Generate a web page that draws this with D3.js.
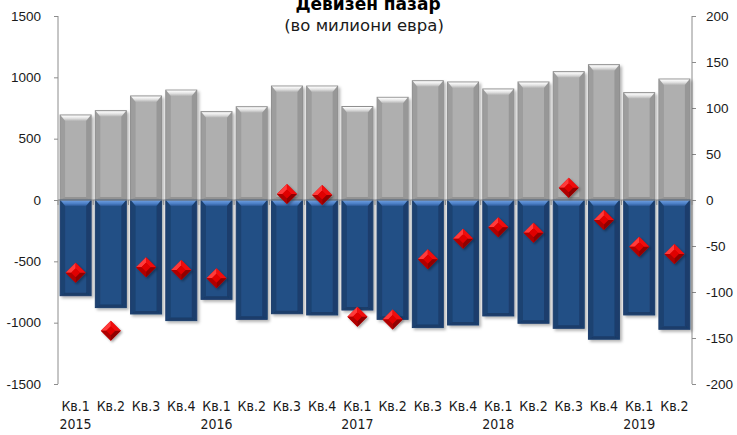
<!DOCTYPE html>
<html><head><meta charset="utf-8">
<script src="https://cdn.jsdelivr.net/npm/d3@7"></script>
<style>
body{margin:0;background:#fff;}
svg{display:block;font-family:"DejaVu Sans Condensed","DejaVu Sans",sans-serif;font-stretch:condensed;}
.ttl{font-family:"DejaVu Sans",sans-serif;font-stretch:normal;}
</style></head><body>
<svg id="c" width="737" height="435"></svg>
<script>
const quarters = ["Кв.1","Кв.2","Кв.3","Кв.4","Кв.1","Кв.2","Кв.3","Кв.4","Кв.1","Кв.2","Кв.3","Кв.4","Кв.1","Кв.2","Кв.3","Кв.4","Кв.1","Кв.2"];
const years = ["2015","","","","2016","","","","2017","","","","2018","","","","2019",""];
const graySeries = [693,728,848,896,720,760,929,929,762,837,972,962,905,962,1046,1103,875,986];
const blueSeries = [-780,-877,-929,-983,-810,-973,-927,-937,-897,-973,-1040,-1019,-945,-1005,-1046,-1135,-937,-1054];
const diamondSeries = [-79,-142,-73,-76,-85,null,6.5,5.4,-127,-130,-64.5,-42,-29.7,-35.5,13.4,-21.7,-50.7,-58.7];
const leftTicks = [-1500,-1000,-500,0,500,1000,1500];
const rightTicks = [-200,-150,-100,-50,0,50,100,150,200];

const svg = d3.select("#c");
const L = 58, R = 692, T = 16, B = 384;
const idx = d3.range(quarters.length);
const x = d3.scaleBand().domain(idx).range([L, R]).paddingInner(0.12).paddingOuter(0.06);
const yL = d3.scaleLinear().domain([-1500,1500]).range([B, T]);
const yR = d3.scaleLinear().domain([-200,200]).range([B, T]);

const defs = svg.append("defs");
const f = defs.append("filter").attr("id","sh").attr("x","-20%").attr("y","-20%").attr("width","150%").attr("height","150%");
f.append("feDropShadow").attr("dx",2).attr("dy",2).attr("stdDeviation",1.6).attr("flood-color","#000").attr("flood-opacity",0.3);
const fd = defs.append("filter").attr("id","shd").attr("x","-30%").attr("y","-30%").attr("width","170%").attr("height","170%");
fd.append("feDropShadow").attr("dx",1.5).attr("dy",1.5).attr("stdDeviation",1.2).attr("flood-color","#000").attr("flood-opacity",0.35);
function lg(id, stops){
  const g = defs.append("linearGradient").attr("id",id).attr("x1",0).attr("y1",0).attr("x2",0).attr("y2",1);
  stops.forEach(s=>g.append("stop").attr("offset",s[0]).attr("stop-color",s[1]));
}
lg("gTop",[[0,"#ffffff"],[0.5,"#e2e2e2"],[1,"#b2b2b2"]]);
lg("bTop",[[0,"#6d9ee0"],[0.6,"#4a7dc4"],[1,"#2a5794"]]);

const axisColor = "#8c8c8c";
svg.append("line").attr("x1",L).attr("x2",L).attr("y1",T).attr("y2",B).attr("stroke",axisColor);
svg.append("line").attr("x1",R).attr("x2",R).attr("y1",T).attr("y2",B).attr("stroke",axisColor);

const fmt = d => String(d);
const gL = svg.append("g").attr("transform",`translate(${L},0)`)
  .call(d3.axisLeft(yL).tickValues(leftTicks).tickSize(4).tickPadding(13).tickFormat(fmt));
const gR = svg.append("g").attr("transform",`translate(${R},0)`)
  .call(d3.axisRight(yR).tickValues(rightTicks).tickSize(4).tickPadding(10).tickFormat(fmt));
[gL,gR].forEach(g=>{
  g.select(".domain").remove();
  g.selectAll("line").attr("stroke",axisColor);
  g.selectAll("text").attr("font-size","13.5px").attr("fill","#1a1a1a");
});

const bw = x.bandwidth();
function bar(g, x0, y0, y1, body, edge, topFill, dark){
  const h = y1 - y0;
  const gg = g.append("g").attr("filter","url(#sh)");
  gg.append("rect").attr("x",x0).attr("y",y0).attr("width",bw).attr("height",h).attr("fill",body).attr("stroke",edge).attr("stroke-width",1);
  const bev = Math.min(6, h/3), ins = 5;
  gg.append("path").attr("d",`M${x0+0.5},${y0+0.5}L${x0+bw-0.5},${y0+0.5}L${x0+bw-ins},${y0+bev}L${x0+ins},${y0+bev}Z`).attr("fill",topFill);
  gg.append("path").attr("d",`M${x0+0.5},${y0+0.5}L${x0+ins},${y0+bev}L${x0+ins},${y1-3}L${x0+0.5},${y1-0.5}Z`).attr("fill",dark).attr("opacity",0.35);
  gg.append("path").attr("d",`M${x0+bw-0.5},${y0+0.5}L${x0+bw-ins},${y0+bev}L${x0+bw-ins},${y1-3}L${x0+bw-0.5},${y1-0.5}Z`).attr("fill",dark).attr("opacity",0.45);
  gg.append("path").attr("d",`M${x0+0.5},${y1-0.5}L${x0+ins},${y1-3}L${x0+bw-ins},${y1-3}L${x0+bw-0.5},${y1-0.5}Z`).attr("fill",dark).attr("opacity",0.5);
}
const barsG = svg.append("g");
idx.forEach(i=>{
  bar(barsG, x(i), yL(graySeries[i]), yL(0), "#afafaf", "#8e8e8e", "url(#gTop)", "#7a7a7a");
  bar(barsG, x(i), yL(0), yL(blueSeries[i]), "#244f85", "#1d3f6c", "url(#bTop)", "#0f2a4e");
});

svg.append("line").attr("x1",L).attr("x2",R).attr("y1",yL(0)).attr("y2",yL(0)).attr("stroke",axisColor);
d3.range(quarters.length+1).forEach(k=>{
  const xx = L + k*(R-L)/quarters.length;
  svg.append("line").attr("x1",xx).attr("x2",xx).attr("y1",yL(0)).attr("y2",yL(0)+5).attr("stroke",axisColor);
});

const dg = svg.append("g");
const s = 10;
idx.filter(i=>diamondSeries[i]!==null).forEach(i=>{
  const cx = x(i)+bw/2, cy = yR(diamondSeries[i]);
  const g = dg.append("g").attr("filter","url(#shd)");
  g.append("path").attr("d",`M${cx},${cy-s}L${cx+s},${cy}L${cx},${cy+s}L${cx-s},${cy}Z`).attr("fill","#d40000");
  g.append("path").attr("d",`M${cx},${cy-s}L${cx-s},${cy}L${cx-s*0.45},${cy}L${cx},${cy-s*0.45}Z`).attr("fill","#ff3a3a");
  g.append("path").attr("d",`M${cx},${cy-s}L${cx+s},${cy}L${cx+s*0.45},${cy}L${cx},${cy-s*0.45}Z`).attr("fill","#f01010");
  g.append("path").attr("d",`M${cx},${cy-s*0.45}L${cx+s*0.45},${cy}L${cx},${cy+s*0.45}L${cx-s*0.45},${cy}Z`).attr("fill","#e00000");
  g.append("path").attr("d",`M${cx-s},${cy}L${cx},${cy+s}L${cx},${cy+s*0.45}L${cx-s*0.45},${cy}Z`).attr("fill","#b00000");
  g.append("path").attr("d",`M${cx+s},${cy}L${cx},${cy+s}L${cx},${cy+s*0.45}L${cx+s*0.45},${cy}Z`).attr("fill","#900000");
});

const xl = svg.append("g");
idx.forEach(i=>{
  const cx = L + (i+0.5)*(R-L)/quarters.length;
  xl.append("text").attr("x",cx).attr("y",411).attr("text-anchor","middle").attr("font-size","14px").attr("fill","#1a1a1a").text(quarters[i]);
  if(years[i]) xl.append("text").attr("x",cx).attr("y",429).attr("text-anchor","middle").attr("font-size","14px").attr("fill","#1a1a1a").text(years[i]);
});

svg.append("text").attr("class","ttl").attr("x",368).attr("y",10).attr("text-anchor","middle").attr("font-size","17px").attr("font-weight","bold").attr("fill","#000").text("Девизен пазар");
svg.append("text").attr("class","ttl").attr("x",364).attr("y",31).attr("text-anchor","middle").attr("font-size","16.5px").attr("fill","#1a1a1a").text("(во милиони евра)");
</script>
</body></html>
